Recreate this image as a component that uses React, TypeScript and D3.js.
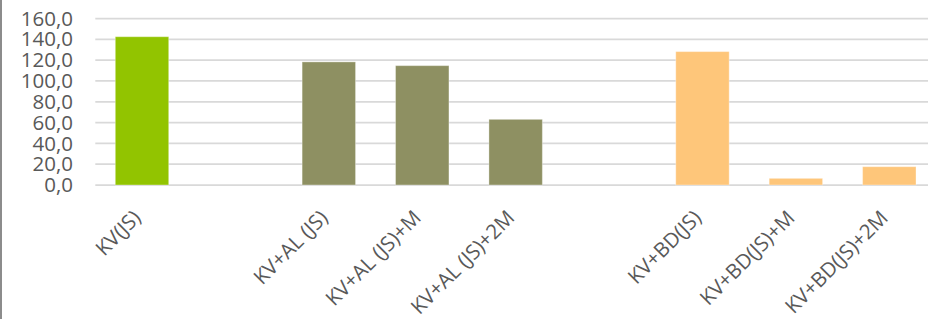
import { useEffect, useRef } from 'react';
import * as d3 from 'd3';

const categories = [
  'KV(JS)',
  '',
  'KV+AL (JS)',
  'KV+AL (JS)+M',
  'KV+AL (JS)+2M',
  '',
  'KV+BD(JS)',
  'KV+BD(JS)+M',
  'KV+BD(JS)+2M',
];
const values: (number | null)[] = [142.5, null, 118.3, 114.7, 63.1, null, 128.2, 6.4, 17.6];
const groups = ['KV', '', 'AL', 'AL', 'AL', '', 'BD', 'BD', 'BD'];
const yTicks = [0, 20, 40, 60, 80, 100, 120, 140, 160];

const groupColors: Record<string, string> = {
  KV: '#92c400',
  AL: '#8e9062',
  BD: '#fec67a',
};

export default function App() {
  const svgRef = useRef<SVGSVGElement>(null);

  useEffect(() => {
    if (!svgRef.current) return;
    const svg = d3.select(svgRef.current);
    svg.selectAll('*').remove();

    const width = 928;
    const height = 319;
    const font = '"Open Sans", sans-serif';
    const textColor = '#595959';

    const x = d3.scaleBand<number>()
      .domain(d3.range(categories.length))
      .range([95.3, 936])
      .paddingInner(0.428)
      .paddingOuter(0.214);

    const y = d3.scaleLinear()
      .domain([0, 160])
      .range([185, 18.5]);

    svg.append('rect')
      .attr('width', width)
      .attr('height', height)
      .attr('fill', '#ffffff');

    // left frame edge
    svg.append('line')
      .attr('x1', 1).attr('x2', 1)
      .attr('y1', 0).attr('y2', height)
      .attr('stroke', '#8c8c8c')
      .attr('stroke-width', 2);

    // gridlines
    svg.append('g')
      .selectAll('line')
      .data(yTicks)
      .join('line')
      .attr('x1', 95.3)
      .attr('x2', width)
      .attr('y1', d => y(d))
      .attr('y2', d => y(d))
      .attr('stroke', '#d9d9d9')
      .attr('stroke-width', 1.75);

    // y labels
    svg.append('g')
      .selectAll('text')
      .data(yTicks)
      .join('text')
      .attr('x', 73)
      .attr('y', d => y(d))
      .attr('dy', '0.35em')
      .attr('text-anchor', 'end')
      .attr('font-family', font)
      .attr('font-size', 20.5)
      .attr('fill', textColor)
      .text(d => d.toFixed(1).replace('.', ','));

    // bars
    const idx = d3.range(categories.length).filter(i => values[i] !== null);
    svg.append('g')
      .selectAll('rect')
      .data(idx)
      .join('rect')
      .attr('x', i => x(i)!)
      .attr('width', x.bandwidth())
      .attr('y', i => y(values[i] as number))
      .attr('height', i => y(0) - y(values[i] as number))
      .attr('fill', i => groupColors[groups[i]])
      .attr('stroke', 'rgba(255,255,255,0.35)')
      .attr('stroke-width', 1);

    // category labels
    svg.append('g')
      .selectAll('text')
      .data(d3.range(categories.length).filter(i => categories[i] !== ''))
      .join('text')
      .attr('transform', i => `translate(${x(i)! + x.bandwidth() / 2 - 5},214) rotate(-45)`)
      .attr('dy', '0.35em')
      .attr('text-anchor', 'end')
      .attr('font-family', font)
      .attr('font-size', 20.5)
      .attr('fill', textColor)
      .text(i => categories[i]);
  }, []);

  return (
    <svg
      ref={svgRef}
      width={928}
      height={319}
      style={{ display: 'block', position: 'absolute', left: 0, top: 0 }}
    />
  );
}
